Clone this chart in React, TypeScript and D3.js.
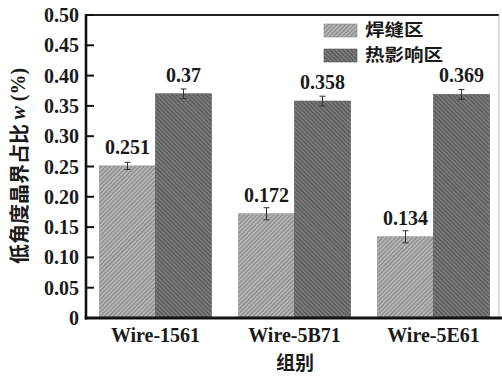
import React from "react";
import * as d3 from "d3";

// Grouped bar chart: low-angle grain boundary fraction by wire type and zone
const groups = ["Wire-1561", "Wire-5B71", "Wire-5E61"];
const seriesNames = ["焊缝区", "热影响区"];
const weldValues = [0.251, 0.172, 0.134];
const hazValues = [0.37, 0.358, 0.369];
const weldErrors = [0.006, 0.01, 0.01];
const hazErrors = [0.008, 0.008, 0.008];
const yTicks = [0, 0.05, 0.1, 0.15, 0.2, 0.25, 0.3, 0.35, 0.4, 0.45, 0.5];
const valueLabels = [["0.251", "0.172", "0.134"], ["0.37", "0.358", "0.369"]];

const W = 502;
const H = 376;
const left = 86;
const top = 15;
const bottom = 318;
const rightFrame = 499;

const serif = "'Liberation Serif', 'Times New Roman', serif";
const cjk = "'Noto Sans CJK SC', sans-serif";

export default function App() {
  const x = d3.scaleBand<string>().domain(groups).range([left, 503]).paddingInner(0.194).paddingOuter(0.097);
  const xs = d3.scaleBand<string>().domain(seriesNames).range([0, x.bandwidth()]);
  const y = d3.scaleLinear().domain([0, 0.5]).range([bottom, top]);

  const series = [
    { name: seriesNames[0], values: weldValues, errors: weldErrors, fill: "url(#hatchLight)", stroke: "#8c8c8c" },
    { name: seriesNames[1], values: hazValues, errors: hazErrors, fill: "url(#hatchDark)", stroke: "#555" },
  ];

  const fmt = d3.format(".2f");

  return (
    <svg width={W} height={H} style={{ position: "absolute", left: 0, top: 0, background: "#fff" }}>
      <defs>
        <pattern id="hatchLight" width="3" height="3" patternUnits="userSpaceOnUse" patternTransform="rotate(45)">
          <rect width="3" height="3" fill="#b8b8b8" />
          <line x1="0.6" y1="0" x2="0.6" y2="3" stroke="#878787" strokeWidth="1.2" />
        </pattern>
        <pattern id="hatchDark" width="3" height="3" patternUnits="userSpaceOnUse" patternTransform="rotate(-45)">
          <rect width="3" height="3" fill="#7c7c7c" />
          <line x1="0.6" y1="0" x2="0.6" y2="3" stroke="#555555" strokeWidth="1.2" />
        </pattern>
      </defs>

      {/* frame: thin top and right edges */}
      <line x1={left} x2={rightFrame} y1={top} y2={top} stroke="#222" strokeWidth={2} />
      <line x1={rightFrame} x2={rightFrame} y1={top} y2={bottom} stroke="#bbb" strokeWidth={1} />

      {/* bars */}
      {series.map((s, si) =>
        groups.map((g, gi) => {
          const bx = (x(g) ?? 0) + (xs(s.name) ?? 0);
          const bw = xs.bandwidth();
          const v = s.values[gi];
          const e = s.errors[gi];
          const cx = bx + bw / 2;
          return (
            <g key={`${si}-${gi}`}>
              <rect x={bx} y={y(v)} width={bw} height={bottom - y(v)} fill={s.fill} stroke={s.stroke} strokeWidth={0.6} />
              <line x1={cx} x2={cx} y1={y(v + e)} y2={y(v - e)} stroke="#333" strokeWidth={1} />
              <line x1={cx - 3} x2={cx + 3} y1={y(v + e)} y2={y(v + e)} stroke="#333" strokeWidth={1} />
              <line x1={cx - 3} x2={cx + 3} y1={y(v - e)} y2={y(v - e)} stroke="#333" strokeWidth={1} />
              <text x={cx} y={y(v) - 12} textAnchor="middle" fontFamily={serif} fontWeight="bold" fontSize={20} fill="#1a1a1a">
                {valueLabels[si][gi]}
              </text>
            </g>
          );
        })
      )}

      {/* y axis */}
      <line x1={left} x2={left} y1={top - 1} y2={bottom + 1.5} stroke="#111" strokeWidth={2.6} />
      {yTicks.map((t) => (
        <g key={t}>
          <line x1={left} x2={left + 8} y1={y(t)} y2={y(t)} stroke="#111" strokeWidth={2} />
          <text x={79} y={y(t)} dy="0.35em" textAnchor="end" fontFamily={serif} fontWeight="bold" fontSize={20} fill="#1a1a1a">
            {t === 0 ? "0" : fmt(t)}
          </text>
        </g>
      ))}

      {/* x axis */}
      <line x1={left - 1.3} x2={W} y1={bottom} y2={bottom} stroke="#111" strokeWidth={3} />
      {groups.map((g) => (
        <text key={g} x={(x(g) ?? 0) + x.bandwidth() / 2} y={342} textAnchor="middle" fontFamily={serif} fontWeight="bold" fontSize={20} fill="#1a1a1a">
          {g}
        </text>
      ))}

      {/* axis titles */}
      <text x={295} y={370} textAnchor="middle" fontFamily={cjk} fontWeight={700} fontSize={19} fill="#1a1a1a">
        组别
      </text>
      <text
        transform="translate(18,166) rotate(-90)"
        textAnchor="middle"
        dominantBaseline="central"
        fontSize={20}
        fill="#1a1a1a"
      >
        <tspan fontFamily={cjk} fontWeight={700}>低角度晶界占比 </tspan>
        <tspan fontFamily={serif} fontStyle="italic" fontWeight="bold">w</tspan>
        <tspan fontFamily={serif} fontWeight="bold"> (%)</tspan>
      </text>

      {/* legend */}
      {series.map((s, i) => (
        <g key={s.name} transform={`translate(324, ${24 + i * 25})`}>
          <rect width={33} height={13} fill={s.fill} stroke={s.stroke} strokeWidth={0.6} />
          <text
            transform="translate(41,6.5) scale(1.15,1)"
            dy="0.35em"
            fontFamily={cjk}
            fontWeight={700}
            fontSize={17}
            fill="#1a1a1a"
          >
            {s.name}
          </text>
        </g>
      ))}
    </svg>
  );
}
